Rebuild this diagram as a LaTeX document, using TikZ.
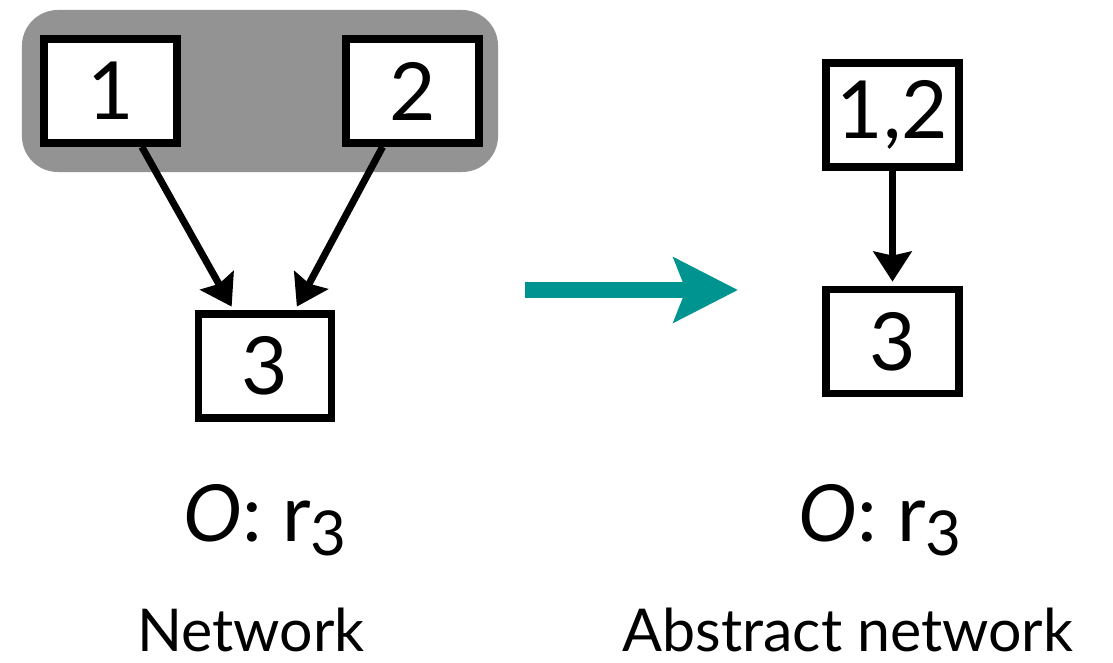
\documentclass[tikz,border=0pt]{standalone}
\usepackage{fontspec}
\setmainfont{Lato}
\usepackage{tikz}
\usetikzlibrary{arrows.meta}
\definecolor{groupgray}{RGB}{147,147,147}
\definecolor{mapteal}{RGB}{0,148,145}
\newcommand{\lowthree}{\raisebox{-0.18em}{\fontsize{44}{44}\selectfont 3}}
\tikzstyle{group} = [rectangle, rounded corners=0.9cm, minimum width=11.9cm, minimum height=4.05cm, fill=groupgray]
\tikzstyle{var} = [rectangle, minimum width=3.325cm, minimum height=2.6cm, inner sep=0pt, text centered, line width=5.5pt, draw=black, fill=white, font=\fontsize{57}{64}\selectfont]
\tikzstyle{outcome} = [font=\fontsize{56}{64}\selectfont]
\tikzstyle{caption} = [font=\fontsize{42}{50}\selectfont]
\tikzstyle{arrow} = [line width=5pt, -{Stealth[length=0.75cm, width=0.95cm, inset=0.1cm]}, shorten >=0.1cm]
\tikzstyle{maparrow} = [line width=0.4cm, draw=mapteal, -{Stealth[length=1.6cm, width=1.6cm, inset=0.3cm]}]

\begin{document}
\begin{tikzpicture}[x=0.025cm, y=-0.025cm]
        \useasboundingbox (0,0) rectangle (1113,663);

        % network
        \node (group) [group] at (260,91) {};
        \node (one) [var] at (110.5,91) {1};
        \node (two) [var] at (412.5,91) {2};
        \node (three) [var] at (265,366) {3};
        \node (out) [outcome] at (265,520) {\textit{O}: r\lowthree};
        \node (net) [caption] at (251,630) {Network};

        % abstract network
        \node (onetwo) [var] at (892.5,115) {1,2};
        \node (absthree) [var] at (892.5,341.5) {3};
        \node (absout) [outcome] at (880,520) {\textit{O}: r\lowthree};
        \node (absnet) [caption] at (848,630) {Abstract network};

        \draw [arrow] (one) -- (three);
        \draw [arrow] (two) -- (three);
        \draw [arrow] (onetwo) -- (absthree);

        \coordinate (mapstart) at (525,290);
        \coordinate (mapend) at (738,290);
        \draw [maparrow] (mapstart) -- (mapend);

\end{tikzpicture}
\end{document}
